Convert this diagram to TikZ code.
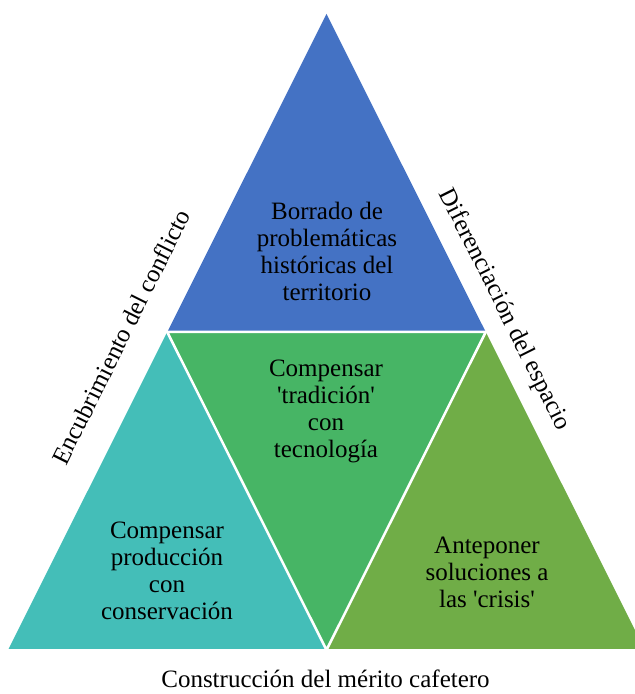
\documentclass[tikz,border=0pt]{standalone}
\usepackage{fontspec}
\setmainfont{Liberation Serif}
\begin{document}
\begin{tikzpicture}[x=1pt,y=1pt,
  piece/.style={draw=white, line width=2.5pt, line join=miter},
  celltext/.style={align=center, text=black, inner sep=0pt,
    font=\fontsize{25}{27}\selectfont},
  sidetext/.style={text=black, inner sep=0pt,
    font=\fontsize{25}{27}\selectfont}]
\definecolor{topblue}{HTML}{4472C4}
\definecolor{midgreen}{HTML}{47B565}
\definecolor{leftteal}{HTML}{44BEB8}
\definecolor{rightolive}{HTML}{70AD47}
\useasboundingbox (0,0) rectangle (635,694);

% corners of the large triangle and the midpoints of its sides
\coordinate (apex) at (326.5,680);
\coordinate (bl) at (8,44);
\coordinate (br) at (645,44);
\coordinate (ml) at (167.25,362);
\coordinate (mr) at (485.75,362);
\coordinate (mb) at (326.5,44);

\begin{scope}
  \clip (0,0) rectangle (635,694);
  \fill[topblue] (apex) -- (ml) -- (mr) -- cycle;
  \fill[leftteal] (ml) -- (bl) -- (mb) -- cycle;
  \fill[midgreen] (ml) -- (mr) -- (mb) -- cycle;
  \fill[rightolive] (mr) -- (mb) -- (br) -- cycle;
  \draw[piece] (ml) -- (mr) -- (mb) -- cycle;
  \draw[piece] (bl) -- (br);
\end{scope}

% texts inside the four triangles
\node[celltext] (ttop) at (327,443) {Borrado de\\problemáticas\\históricas del\\territorio};
\node[celltext] (tmid) at (326,283) {Compensar\\\textquotesingle tradición\textquotesingle\\con\\tecnología};
\node[celltext] (tleft) at (167,123) {Compensar\\producción\\con\\conservación};
\node[celltext] (tright) at (487,122) {Anteponer\\soluciones a\\las \textquotesingle crisis\textquotesingle};

% labels along the three sides
\node[sidetext, rotate=63.43] (sleft) at (121,357) {Encubrimiento del conflicto};
\node[sidetext, rotate=-63.43] (sright) at (504,384) {Diferenciación del espacio};
\node[sidetext, anchor=base] (sbottom) at (325.5,6.5) {Construcción del mérito cafetero};
\end{tikzpicture}
\end{document}
